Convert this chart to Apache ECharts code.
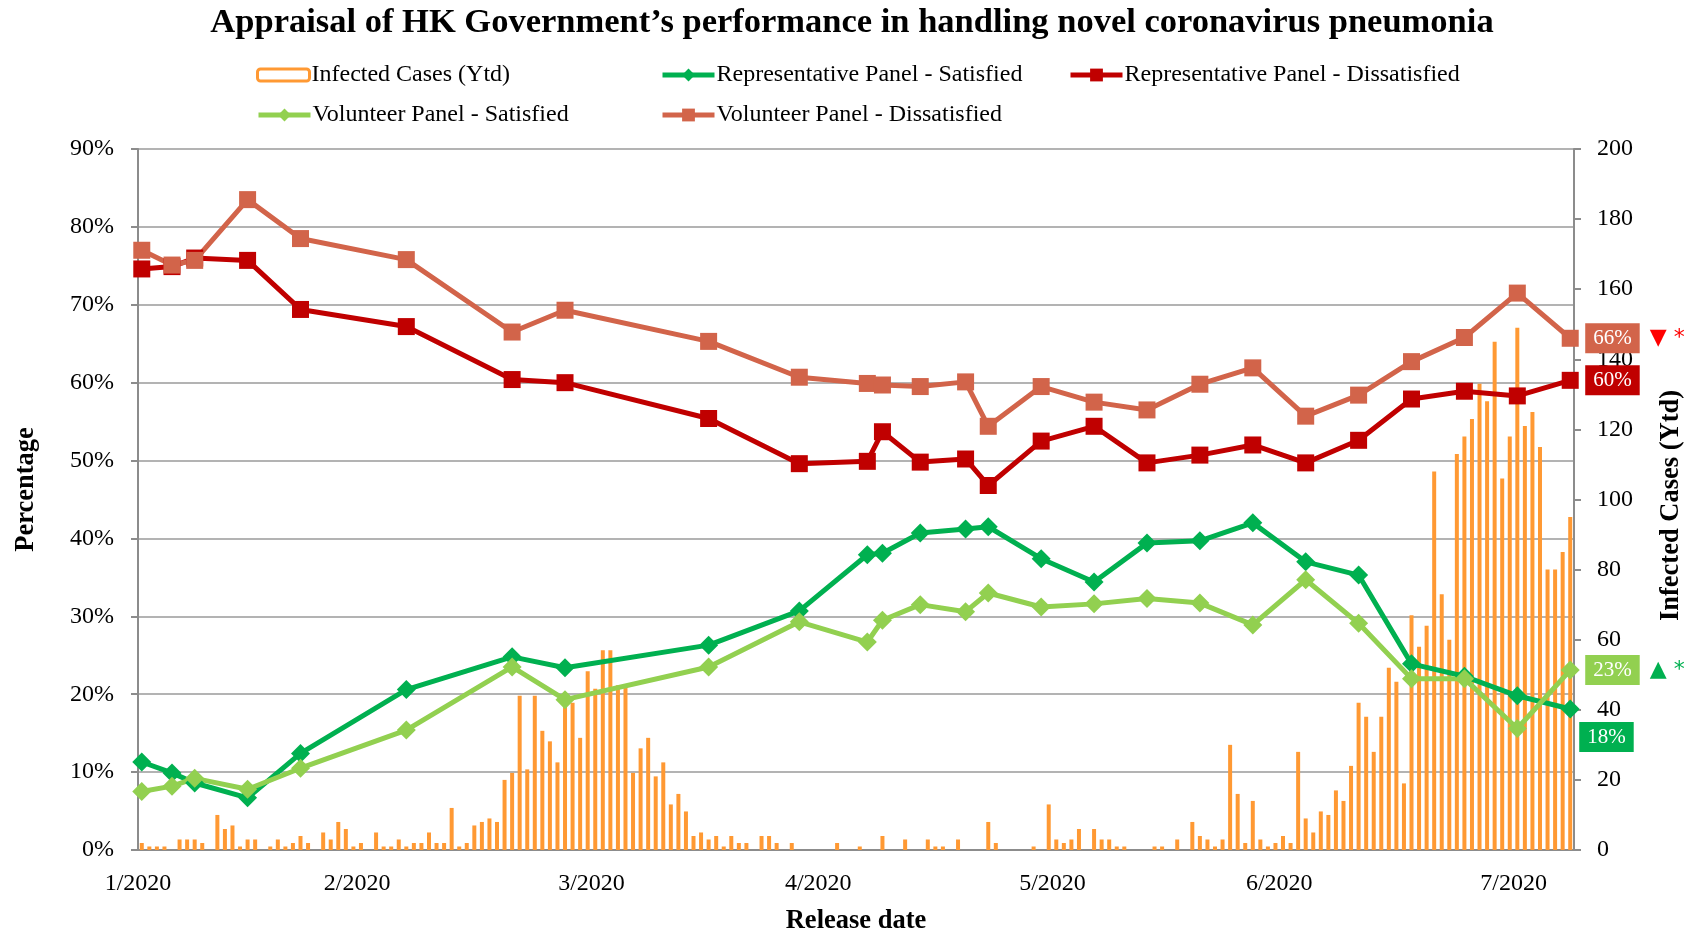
<!DOCTYPE html>
<html><head><meta charset="utf-8">
<script src="https://cdn.jsdelivr.net/npm/echarts@6/dist/echarts.min.js"></script>
<style>html,body{margin:0;padding:0;background:#fff}#c{width:1693px;height:940px}</style>
</head><body><div id="c"></div>
<script>
// ---- data ----
const dayCount = 190;
const categories = Array.from({length: dayCount}, (_, i) => 'Day ' + (i + 1));
const tickIdx = [0, 29, 60, 90, 121, 151, 182];
const tickLabels = ['1/2020', '2/2020', '3/2020', '4/2020', '5/2020', '6/2020', '7/2020'];

const cases = [
  2,1,1,1,0,3,3,3,2,0,
  10,6,7,1,3,3,0,1,3,1,
  2,4,2,0,5,3,8,6,1,2,
  0,5,1,1,3,1,2,2,5,2,
  2,12,1,2,7,8,9,8,20,22,
  44,23,44,34,31,25,42,42,32,51,
  46,57,57,47,47,22,29,32,21,25,
  13,16,11,4,5,3,4,1,4,2,
  2,0,4,4,2,0,2,0,0,0,
  0,0,2,0,0,1,0,0,4,0,
  0,3,0,0,3,1,1,0,3,0,
  0,0,8,2,0,0,0,0,1,0,
  13,3,2,3,6,0,6,3,3,1,
  1,0,0,0,1,1,0,3,0,8,
  4,3,1,3,30,16,2,14,3,1,
  2,4,2,28,9,5,11,10,17,14,
  24,42,38,28,38,52,48,19,67,58,
  64,108,73,60,113,118,123,133,128,145,
  106,118,149,121,125,115,80,80,85,95
];

const releaseIdx = [0,4,7,14,21,35,49,56,75,87,96,98,103,109,112,119,126,133,140,147,154,161,168,175,182,189];
const repSat = [11.3,9.9,8.6,6.7,12.4,20.6,24.8,23.4,26.3,30.7,37.9,38.1,40.7,41.2,41.5,37.4,34.4,39.4,39.7,42.0,37.0,35.3,23.9,22.3,19.8,18.1];
const volSat = [7.5,8.2,9.2,7.8,10.5,15.4,23.5,19.3,23.5,29.3,26.7,29.5,31.5,30.6,33.0,31.2,31.6,32.3,31.7,28.9,34.7,29.1,22.0,22.0,15.6,23.1];
const repDis = [74.6,74.9,76.0,75.7,69.4,67.2,60.4,60.0,55.4,49.6,49.9,53.7,49.8,50.2,46.8,52.5,54.4,49.7,50.7,52.0,49.7,52.6,57.9,58.9,58.3,60.3];
const volDis = [77.0,75.1,75.7,83.5,78.5,75.8,66.5,69.3,65.3,60.7,59.9,59.7,59.5,60.1,54.4,59.5,57.5,56.5,59.8,61.9,55.7,58.4,62.7,65.8,71.5,65.7];

// ---- styles ----
const SERIF = "'Times New Roman', 'Liberation Serif', serif";
const C_BAR = '#FF9933', C_RS = '#00B050', C_VS = '#92D050', C_RD = '#C00000', C_VD = '#D2644A';

function pairs(vals) { return releaseIdx.map((d, i) => [d, vals[i]]); }

function endLab(color, mark, markColor, distance, offsetY) {
  return {
    show: true,
    distance: distance,
    offset: [0, offsetY],
    formatter: p => '{b|' + Math.round(p.value[1]) + '%}' + (mark ? '{g|}{m|' + mark + '}' : ''),
    rich: {
      b: {backgroundColor: color, color: '#fff', fontFamily: SERIF, fontSize: 21, padding: [5, 8, 4, 8], lineHeight: 24},
      g: {width: 10},
      m: {color: markColor, fontSize: 22, fontFamily: 'DejaVu Sans'}
    }
  };
}

function lineSeries(name, vals, color, symbol, size, lab) {
  return {
    name, type: 'line', yAxisIndex: 0, data: pairs(vals),
    symbol, symbolSize: size, showAllSymbol: true,
    lineStyle: {width: 5, color}, itemStyle: {color},
    z: 5, endLabel: lab
  };
}

function leg(name, left, top, extra) {
  return Object.assign({
    data: [name], left, top, padding: 0, itemWidth: 52, itemHeight: 16, itemGap: 0,
    lineStyle: {width: 5},
    textStyle: {fontFamily: SERIF, fontSize: 24, color: '#000', padding: [0, 0, 0, -3]},
    selectedMode: false
  }, extra || {});
}

const chart = echarts.init(document.getElementById('c'));
chart.setOption({
  animation: false,
  backgroundColor: '#fff',
  title: {
    text: 'Appraisal of HK Government\u2019s performance in handling novel coronavirus pneumonia',
    left: 847, top: 1, textAlign: 'center',
    textStyle: {fontFamily: SERIF, fontSize: 34.5, fontWeight: 'bold', color: '#000'}
  },
  legend: [
    leg({name: 'Infected Cases (Ytd)', itemStyle: {color: '#fff', borderColor: C_BAR, borderWidth: 3}}, 256, 63, {itemHeight: 12}),
    leg('Representative Panel - Satisfied', 660, 63),
    leg('Representative Panel - Dissatisfied', 1068, 63),
    leg('Volunteer Panel - Satisfied', 256, 103),
    leg('Volunteer Panel - Dissatisfied', 660, 103)
  ],
  grid: {left: 138, right: 119, top: 149, bottom: 80, containLabel: false},
  xAxis: {
    type: 'category', data: categories, boundaryGap: true,
    name: 'Release date', nameLocation: 'middle', nameGap: 58,
    nameTextStyle: {fontFamily: SERIF, fontSize: 26.5, fontWeight: 'bold', color: '#000'},
    axisLine: {lineStyle: {color: '#8c8c8c', width: 2}},
    axisTick: {interval: (i) => tickIdx.includes(i), length: 7, lineStyle: {color: '#8c8c8c', width: 2}},
    axisLabel: {
      interval: (i) => tickIdx.includes(i),
      formatter: (v, i) => tickLabels[tickIdx.indexOf(i)],
      fontFamily: SERIF, fontSize: 24, color: '#000', margin: 22, padding: [0, 7.5, 0, 0]
    },
    splitLine: {show: false}
  },
  yAxis: [
    {
      type: 'value', min: 0, max: 90, interval: 10,
      name: 'Percentage', nameLocation: 'middle', nameGap: 98,
      nameTextStyle: {fontFamily: SERIF, fontSize: 26.5, fontWeight: 'bold', color: '#000', padding: [0, 0, 0, 20]},
      axisLine: {show: true, lineStyle: {color: '#8c8c8c', width: 2}},
      axisTick: {show: true, length: 7, lineStyle: {color: '#8c8c8c', width: 2}},
      axisLabel: {formatter: '{value}%', fontFamily: SERIF, fontSize: 24, color: '#000', margin: 24},
      splitLine: {show: true, lineStyle: {color: '#9a9a9a', width: 1.6}}
    },
    {
      type: 'value', min: 0, max: 200, interval: 20, position: 'right',
      name: 'Infected Cases (Ytd)', nameLocation: 'middle', nameGap: 84, nameRotate: 90,
      nameTextStyle: {fontFamily: SERIF, fontSize: 26.5, fontWeight: 'bold', color: '#000', padding: [0, 12, 0, 0]},
      axisLine: {show: true, lineStyle: {color: '#8c8c8c', width: 2}},
      axisTick: {show: true, length: 7, lineStyle: {color: '#8c8c8c', width: 2}},
      axisLabel: {fontFamily: SERIF, fontSize: 24, color: '#000', margin: 23},
      splitLine: {show: false}
    }
  ],
  series: [
    {name: 'Infected Cases (Ytd)', type: 'bar', yAxisIndex: 1, data: cases, barWidth: 4,
     itemStyle: {color: C_BAR}, z: 2},
    lineSeries('Representative Panel - Satisfied', repSat, C_RS, 'diamond', 19, endLab(C_RS, null, null, 9, 28)),
    lineSeries('Representative Panel - Dissatisfied', repDis, C_RD, 'rect', 17, endLab(C_RD, null, null, 15, 0)),
    lineSeries('Volunteer Panel - Satisfied', volSat, C_VS, 'diamond', 19, endLab(C_VS, '\u25B2 *', C_RS, 15, 0)),
    lineSeries('Volunteer Panel - Dissatisfied', volDis, C_VD, 'rect', 17, endLab(C_VD, '\u25BC *', '#FF0000', 15, 0))
  ]
});
</script>
</body></html>
